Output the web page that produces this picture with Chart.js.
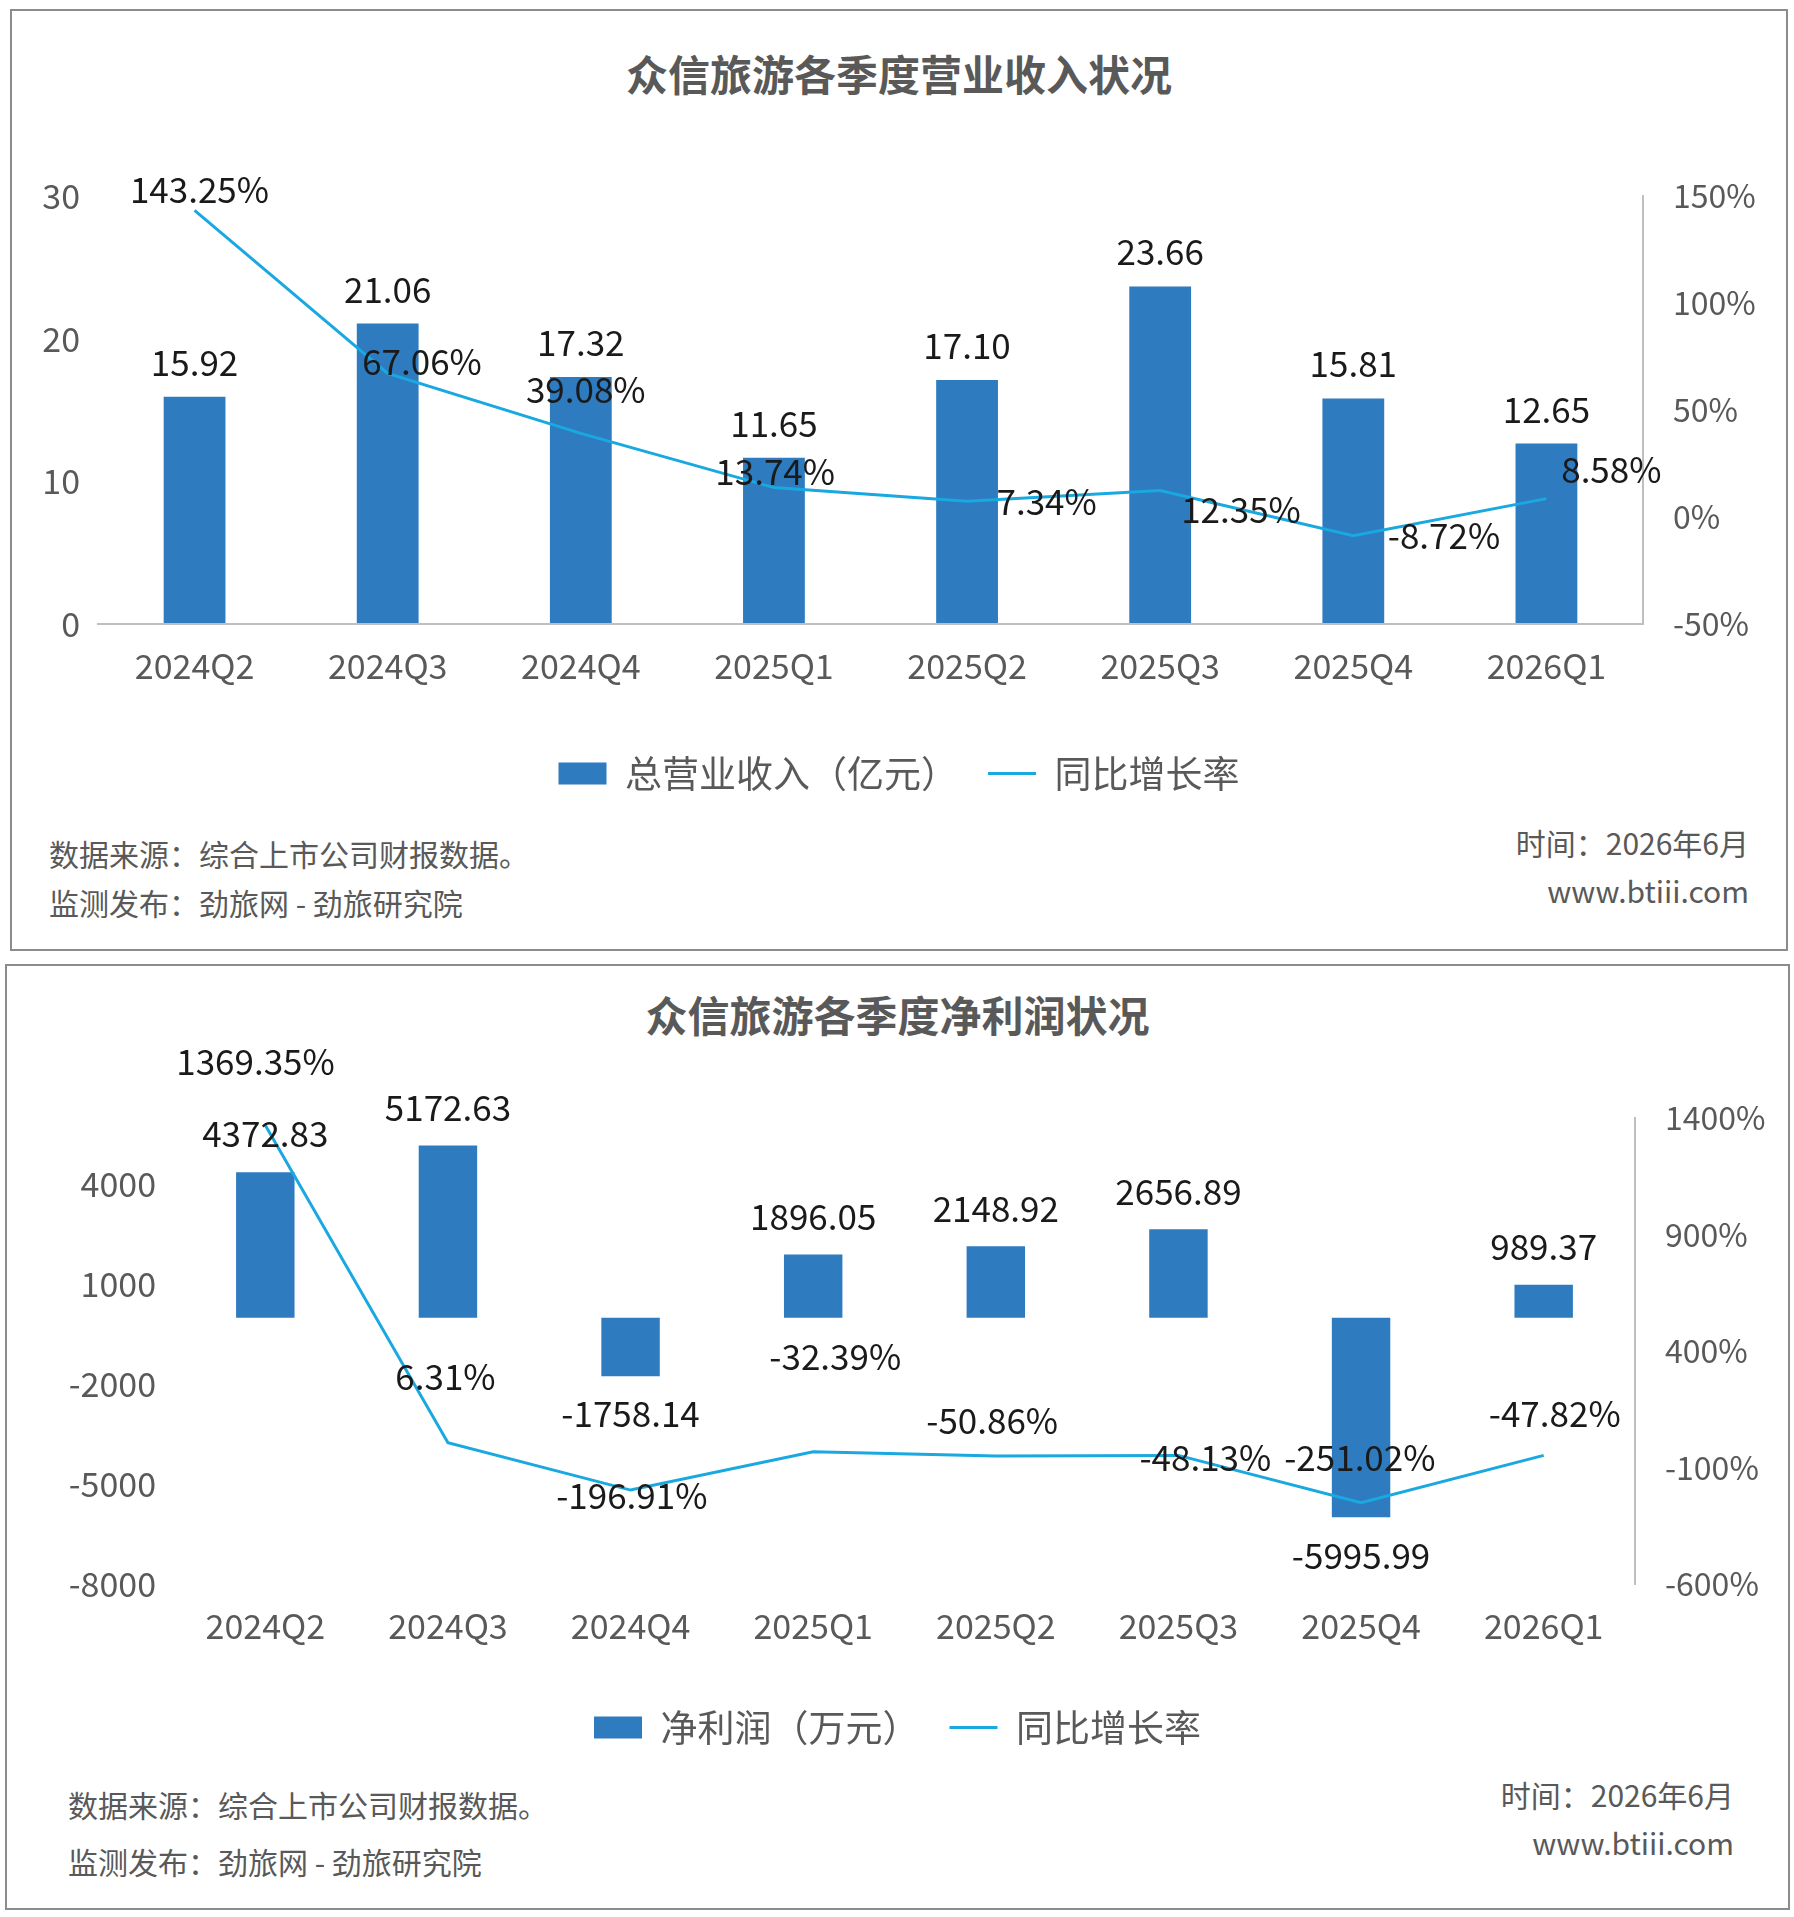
<!DOCTYPE html>
<html>
<head>
<meta charset="utf-8">
<script src="https://cdn.jsdelivr.net/npm/chart.js@4/dist/chart.umd.min.js"></script>
<style>
  body { margin: 0; background: #fff; width: 1794px; height: 1917px; position: relative; font-family: "Noto Sans CJK SC", "Noto Sans", sans-serif; }
  .panel { position: absolute; border: 2px solid #8c8c8c; box-sizing: border-box; }
  .title { position: absolute; width: 100%; text-align: center; font-weight: bold; font-size: 42px; color: #595959; }
  .foot { position: absolute; font-size: 30px; color: #595959; line-height: 1; }
  .right { text-align: right; }
  canvas { position: absolute; }
</style>
</head>
<body>
<div class="panel" style="left:10px;top:9px;width:1778px;height:942px;">
  <div class="title" style="top:31px;">众信旅游各季度营业收入状况</div>
</div>
<div class="foot" style="left:49px;top:838px;">数据来源：综合上市公司财报数据。</div>
<div class="foot" style="left:49px;top:887px;">监测发布：劲旅网 - 劲旅研究院</div>
<div class="foot right" style="right:45px;top:827px;">时间：2026年6月</div>
<div class="foot right" style="right:45px;top:875px;">www.btiii.com</div>
<canvas id="c1" style="left:10px;top:150px;" width="1778" height="680"></canvas>

<div class="panel" style="left:5px;top:964px;width:1785px;height:946px;">
  <div class="title" style="top:17px;">众信旅游各季度净利润状况</div>
</div>
<div class="foot" style="left:68px;top:1789px;">数据来源：综合上市公司财报数据。</div>
<div class="foot" style="left:68px;top:1846px;">监测发布：劲旅网 - 劲旅研究院</div>
<div class="foot right" style="right:60px;top:1779px;">时间：2026年6月</div>
<div class="foot right" style="right:60px;top:1827px;">www.btiii.com</div>
<canvas id="c2" style="left:5px;top:1040px;" width="1785" height="740"></canvas>

<script>
const quarters = ['2024Q2', '2024Q3', '2024Q4', '2025Q1', '2025Q2', '2025Q3', '2025Q4', '2026Q1'];
const revenue = [15.92, 21.06, 17.32, 11.65, 17.10, 23.66, 15.81, 12.65];
const revenueGrowth = [143.25, 67.06, 39.08, 13.74, 7.34, 12.35, -8.72, 8.58];
const profit = [4372.83, 5172.63, -1758.14, 1896.05, 2148.92, 2656.89, -5995.99, 989.37];
const profitGrowth = [1369.35, 6.31, -196.91, -32.39, -50.86, -48.13, -251.02, -47.82];
const profitTicks = [-8000, -5000, -2000, 1000, 4000];

const S = 1.2245;
const BAR = '#2E7BC0';
const LINE = '#1AA8E0';
const TEXT = '#595959';
const FONT = '"Noto Sans CJK SC", "Noto Sans", sans-serif';

// label offsets (display px) for the growth-rate labels
const revOffsets = [[4,-17],[28,-10],[4,-36],[1,-13],[65,0],[66,16],[74,0],[53,-24]];
const profOffsets = [[-8,-52],[-2,-54],[1,5],[18,-78],[-3,-29],[22,2],[-1,-37],[9,-34]];

function labelPlugin(barFmt, barGap, offsets) {
  return {
    id: 'labels',
    afterDatasetsDraw(chart) {
      const ctx = chart.ctx;
      ctx.save();
      ctx.fillStyle = '#1a1a1a';
      ctx.font = '35px ' + FONT;
      ctx.textAlign = 'center';
      ctx.textBaseline = 'middle';
      const bars = chart.getDatasetMeta(0).data;
      const barData = chart.data.datasets[0].data;
      bars.forEach((b, i) => {
        const v = barData[i];
        const y = v >= 0 ? b.y - barGap * S : b.y + barGap * S;
        ctx.fillText(barFmt(v), b.x, y);
      });
      const pts = chart.getDatasetMeta(1).data;
      const lineData = chart.data.datasets[1].data;
      pts.forEach((p, i) => {
        ctx.fillText(lineData[i].toFixed(2) + '%', p.x + offsets[i][0] * S, p.y + offsets[i][1] * S);
      });
      ctx.restore();
    }
  };
}

function makeChart(id, bars, barLabel, line, cfg) {
  return new Chart(document.getElementById(id), {
    data: {
      labels: quarters,
      datasets: [{
        type: 'bar', label: barLabel, data: bars, backgroundColor: BAR,
        barPercentage: 0.32, categoryPercentage: 1, yAxisID: 'y', pointStyle: 'rect', order: 2
      }, {
        type: 'line', label: '同比增长率', data: line, borderColor: LINE, backgroundColor: LINE,
        borderWidth: 3, pointRadius: 0, yAxisID: 'y1', pointStyle: 'line', order: 1
      }]
    },
    options: {
      responsive: false, animation: false,
      layout: { padding: { top: cfg.top, left: 0, right: 0, bottom: cfg.bottom } },
      plugins: {
        legend: {
          position: 'bottom',
          labels: { usePointStyle: true, pointStyleWidth: 48, boxHeight: 22, padding: 30,
            color: TEXT, font: { size: 37, family: FONT },
            sort: (a, b) => a.datasetIndex - b.datasetIndex }
        },
        tooltip: { enabled: false }
      },
      scales: {
        x: {
          grid: { display: false }, border: { display: cfg.xBorder, color: '#bfbfbf', width: 2 },
          ticks: { color: TEXT, font: { size: 34, family: FONT }, padding: 14 },
          afterFit: s => { s.height = cfg.xHeight; }
        },
        y: {
          min: cfg.yMin, max: cfg.yMax, position: 'left',
          border: { display: false },
          grid: { drawTicks: false, color: c => c.tick.value === 0 ? '#bfbfbf' : 'transparent', lineWidth: 2 },
          ticks: { color: TEXT, font: { size: 34, family: FONT }, stepSize: cfg.yStep, padding: 18,
            callback: v => String(v) },
          afterBuildTicks: cfg.yTicks ? s => { s.ticks = cfg.yTicks.map(v => ({ value: v })); } : undefined,
          afterFit: s => { s.width = cfg.leftW; }
        },
        y1: {
          min: cfg.rMin, max: cfg.rMax, position: 'right',
          border: { display: true, color: '#bfbfbf', width: 2 },
          grid: { display: false },
          ticks: { color: TEXT, font: { size: 32, family: FONT }, stepSize: cfg.rStep, padding: 22,
            callback: v => v + '%' },
          afterFit: s => { s.width = cfg.rightW; }
        }
      }
    },
    plugins: [labelPlugin(cfg.barFmt, cfg.barGap, cfg.offsets)]
  });
}

makeChart('c1', revenue, '总营业收入（亿元）', revenueGrowth, {
  top: 46, bottom: 28, xHeight: 101, leftW: 88, rightW: 145, xBorder: true,
  yMin: 0, yMax: 30, yStep: 10, rMin: -50, rMax: 150, rStep: 50,
  barFmt: v => v.toFixed(2), barGap: 28, offsets: revOffsets
});

makeChart('c2', profit, '净利润（万元）', profitGrowth, {
  top: 78, bottom: 24, xHeight: 95, leftW: 169, rightW: 155, xBorder: false,
  yMin: -8000, yMax: 6000, yStep: 3000, yTicks: profitTicks, rMin: -600, rMax: 1400, rStep: 500,
  barFmt: v => v.toFixed(2), barGap: 31, offsets: profOffsets
});
</script>
</body>
</html>
